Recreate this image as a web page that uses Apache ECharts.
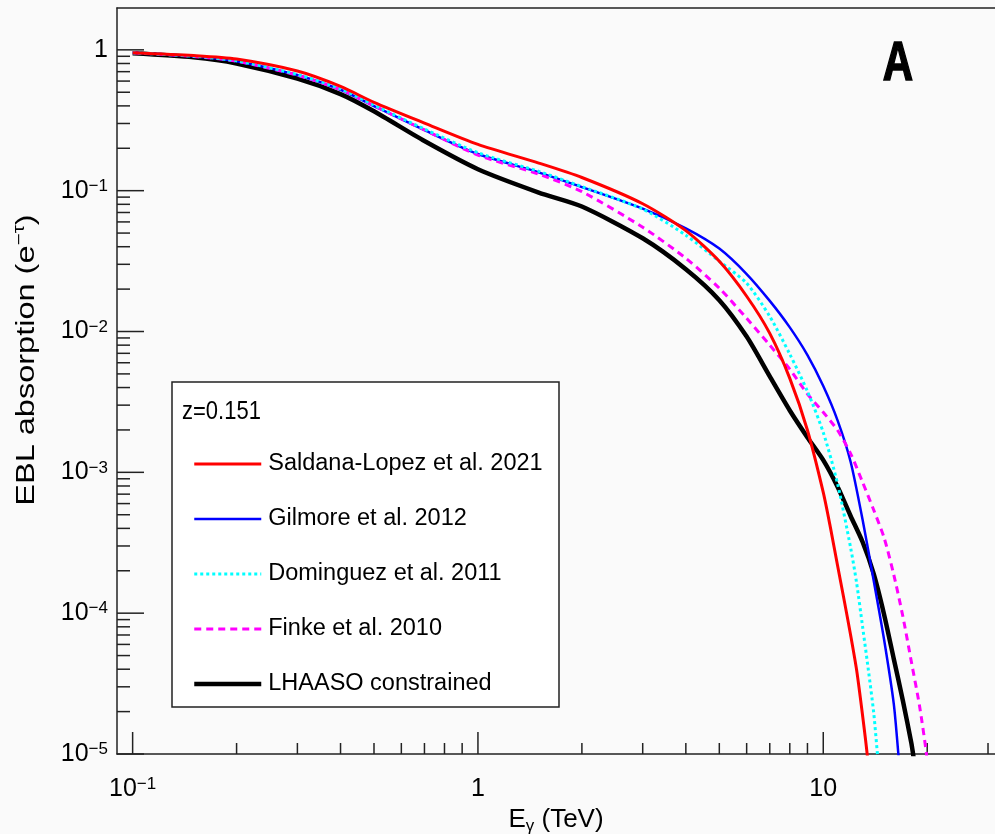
<!DOCTYPE html>
<html>
<head>
<meta charset="utf-8">
<script src="https://cdn.jsdelivr.net/npm/echarts@6/dist/echarts.min.js"></script>
<style>
html,body{margin:0;padding:0;background:#fafafa;}
#chart{width:995px;height:834px;}
</style>
</head>
<body>
<div id="chart"></div>
<script>
// ---------- data ----------
const seriesNames = ['Saldana-Lopez et al. 2021','Gilmore et al. 2012','Dominguez et al. 2011','Finke et al. 2010','LHAASO constrained'];

const saldanaE = [0.1,0.15,0.2,0.3,0.4,0.5,0.7,1,1.5,2,3,4,5,6,7,8,9,10,10.5,11,11.5,12,12.5,13,13.4,14];
const saldanaV = [0.953,0.91,0.86,0.707,0.55,0.424,0.302,0.213,0.157,0.124,0.0807,0.052,0.0315,0.0178,0.0097,0.00465,0.00199,7.2e-4,4.0e-4,2.18e-4,1.23e-4,7.0e-5,3.9e-5,1.87e-5,1.0e-5,3e-6];

const gilmoreE = [0.1,0.15,0.2,0.3,0.4,0.5,0.7,1,1.5,2,3,4,5,6,7,8,9,10,11,12,13,14,15,16,16.5,17.2];
const gilmoreV = [0.953,0.9,0.83,0.662,0.521,0.399,0.269,0.182,0.135,0.106,0.0745,0.054,0.0388,0.0256,0.0165,0.0107,0.0068,0.0041,0.00234,0.00119,4.6e-4,1.7e-4,6.5e-5,2.28e-5,1.0e-5,3e-6];

const dominguezE = [0.1,0.15,0.2,0.3,0.4,0.5,0.7,1,1.5,2,3,4,5,6,7,8,9,10,11,12,12.5,13,13.5,14,14.35,15];
const dominguezV = [0.953,0.902,0.835,0.668,0.528,0.405,0.274,0.186,0.137,0.107,0.074,0.0483,0.0315,0.022,0.0128,0.0069,0.00376,0.00192,8.3e-4,2.92e-4,1.62e-4,8.0e-5,4.0e-5,1.96e-5,1.0e-5,3e-6];

const finkeE = [0.1,0.15,0.2,0.3,0.4,0.5,0.7,1,1.5,2,3,4,5,6,7,8,9,10,11,12,13,14,15,16,17,18,19,19.9,21];
const finkeV = [0.953,0.898,0.83,0.66,0.522,0.4,0.27,0.179,0.131,0.0984,0.055,0.0331,0.0203,0.0124,0.008,0.0054,0.0036,0.00267,0.00199,0.00136,8.5e-4,5.4e-4,3.44e-4,1.88e-4,9.5e-5,4.5e-5,2.2e-5,1.0e-5,3e-6];

const lhaasoE = [0.1,0.15,0.2,0.3,0.4,0.5,0.7,1,1.5,2,3,4,5,6,7,8,9,10,11,12,13,14,15,16,17,18,18.2,19];
const lhaasoV = [0.944,0.885,0.80,0.624,0.485,0.366,0.225,0.142,0.097,0.0772,0.0459,0.0277,0.0167,0.0092,0.0048,0.00275,0.00177,0.00122,7.9e-4,4.9e-4,3.2e-4,1.9e-4,9.8e-5,4.75e-5,2.4e-5,1.19e-5,1.0e-5,5e-6];

const xMajorTicks = [0.1, 1, 10];
const xMinorTicks = [0.2,0.3,0.4,0.5,0.6,0.7,0.8,0.9,2,3,4,5,6,7,8,9,20,30];
const xTickBase = ['10','1','10'];
const xTickExp  = ['\u22121','',''];

const yMajorTicks = [1e-5,1e-4,1e-3,1e-2,1e-1,1];
const yMinorTicks = [2e-5,3e-5,4e-5,5e-5,6e-5,7e-5,8e-5,9e-5,
                     2e-4,3e-4,4e-4,5e-4,6e-4,7e-4,8e-4,9e-4,
                     2e-3,3e-3,4e-3,5e-3,6e-3,7e-3,8e-3,9e-3,
                     2e-2,3e-2,4e-2,5e-2,6e-2,7e-2,8e-2,9e-2,
                     0.2,0.3,0.4,0.5,0.6,0.7,0.8,0.9];
const yTickBase = ['10','10','10','10','10','1'];
const yTickExp  = ['\u22125','\u22124','\u22123','\u22122','\u22121',''];

// ---------- chart ----------
const FONT = '"Liberation Sans",Arial,Helvetica,sans-serif';
const chart = echarts.init(document.getElementById('chart'), null, {renderer:'canvas'});

function pairs(E, V){ return E.map((e,i)=>[e, V[i]]); }
function idxOf(arr, v){ for(let i=0;i<arr.length;i++){ if(Math.abs(Math.log10(arr[i])-Math.log10(v))<1e-6) return i; } return -1; }
function fmt(arr, base, exp){
  return function(v){
    const i = idxOf(arr, v);
    if(i<0) return '';
    return exp[i] ? '{b|'+base[i]+'}{s|'+exp[i]+'}' : '{b|'+base[i]+'}';
  };
}
const labelRich = {
  b:{fontFamily:FONT,fontSize:25,color:'#000',lineHeight:26},
  s:{fontFamily:FONT,fontSize:17,color:'#000',lineHeight:17,verticalAlign:'top'}
};

const X_MIN = 0.0901, X_MAX = 31.43, Y_MIN = 1e-5, Y_MAX = 1.982;

function xTickItem(params, api){
  const v = api.value(0), major = api.value(2);
  const cs = params.coordSys;
  const p = api.coord([v, 1]);
  const yb = cs.y + cs.height;
  return {type:'line', shape:{x1:p[0], y1:yb, x2:p[0], y2:yb-(major?22:11)}, style:{stroke:'#222', lineWidth:1.5}};
}
function yTickItem(params, api){
  const v = api.value(1), major = api.value(2);
  const cs = params.coordSys;
  const p = api.coord([1, v]);
  return {type:'line', shape:{x1:cs.x, y1:p[1], x2:cs.x+(major?27:13), y2:p[1]}, style:{stroke:'#222', lineWidth:1.5}};
}

const lineCommon = {type:'line', symbol:'none', showSymbol:false, smooth:0.25, clip:true, z:3};
const hiddenAxisParts = {axisTick:{show:false}, minorTick:{show:false}, splitLine:{show:false}, minorSplitLine:{show:false}};

const option = {
  backgroundColor:'#fafafa',
  animation:false,
  grid:{left:117, right:0, top:8, bottom:80, show:false, containLabel:false, outerBoundsMode:'none'},
  xAxis:[
    Object.assign({
      type:'log', min:X_MIN, max:X_MAX, logBase:10, position:'bottom',
      axisLine:{show:true, lineStyle:{color:'#222', width:1.5}},
      axisLabel:{formatter:fmt(xMajorTicks,xTickBase,xTickExp), rich:labelRich, margin:22, showMinLabel:false, showMaxLabel:false},
      name:'{b|E}{g|\u03b3}{b| (TeV)}', nameLocation:'middle', nameGap:45,
      nameTextStyle:{rich:{b:{fontFamily:FONT,fontSize:26,color:'#000',lineHeight:30},g:{fontFamily:FONT,fontSize:17,color:'#000',lineHeight:30,verticalAlign:'bottom'}}}
    }, hiddenAxisParts),
    Object.assign({
      type:'log', min:X_MIN, max:X_MAX, logBase:10, position:'top',
      axisLine:{show:true, lineStyle:{color:'#222', width:1.5}},
      axisLabel:{show:false}
    }, hiddenAxisParts)
  ],
  yAxis:Object.assign({
    type:'log', min:Y_MIN, max:Y_MAX, logBase:10,
    axisLine:{show:true, lineStyle:{color:'#222', width:1.5}},
    axisLabel:{formatter:fmt(yMajorTicks,yTickBase,yTickExp), rich:labelRich, margin:9, showMinLabel:true, showMaxLabel:false}
  }, hiddenAxisParts),
  legend:{
    show:true, orient:'vertical', left:187, top:444, z:20,
    itemWidth:67, itemHeight:14, itemGap:25,
    data:seriesNames,
    itemStyle:{opacity:0},
    lineStyle:{width:'inherit'},
    textStyle:{fontFamily:FONT, fontSize:23.5, color:'#000', lineHeight:30, padding:[0,0,0,2]},
    selectedMode:false
  },
  graphic:[
    {type:'rect', z:10, shape:{x:172, y:382, width:387, height:325}, style:{fill:'#ffffff', stroke:'#222', lineWidth:1.5}},
    {type:'text', z:21, x:182, y:412, scaleY:1.15, style:{text:'z=0.151', fontFamily:FONT, fontSize:22, fill:'#000', textVerticalAlign:'middle'}},
    {type:'text', z:21, x:898, y:65, scaleY:1.3, style:{text:'A', fontFamily:FONT, fontSize:42, fontWeight:'bold', fill:'#000', stroke:'#000', lineWidth:1.2, textAlign:'center', textVerticalAlign:'middle'}},
    {type:'text', z:21, x:27, y:360, rotation:Math.PI/2, scaleX:1.3, scaleY:1,
      style:{text:'{n|EBL absorption (e}{s|\u2212\u03c4}{n|)}', textAlign:'center', textVerticalAlign:'middle',
        rich:{n:{fontFamily:FONT,fontSize:25,fill:'#000',lineHeight:30}, s:{fontFamily:FONT,fontSize:16,fill:'#000',lineHeight:16,verticalAlign:'top'}}}}
  ],
  series:[
    Object.assign({}, lineCommon, {name:seriesNames[4], data:pairs(lhaasoE,lhaasoV), color:'#000000', lineStyle:{color:'#000000', width:4.5}}),
    Object.assign({}, lineCommon, {name:seriesNames[1], data:pairs(gilmoreE,gilmoreV), color:'#0000ff', lineStyle:{color:'#0000ff', width:2.5}}),
    Object.assign({}, lineCommon, {name:seriesNames[3], data:pairs(finkeE,finkeV), color:'#ff00ff', lineStyle:{color:'#ff00ff', width:3, type:[7,5]}}),
    Object.assign({}, lineCommon, {name:seriesNames[2], data:pairs(dominguezE,dominguezV), color:'#00ffff', lineStyle:{color:'#00ffff', width:3, type:[3,3]}}),
    Object.assign({}, lineCommon, {name:seriesNames[0], data:pairs(saldanaE,saldanaV), color:'#ff0000', lineStyle:{color:'#ff0000', width:3}}),
    {type:'custom', name:'xticks', clip:false, silent:true, z:2, renderItem:xTickItem, encode:{x:0,y:1},
      data: xMajorTicks.map(v=>[v,1,1]).concat(xMinorTicks.map(v=>[v,1,0]))},
    {type:'custom', name:'yticks', clip:false, silent:true, z:2, renderItem:yTickItem, encode:{x:0,y:1},
      data: yMajorTicks.map(v=>[1,v,1]).concat(yMinorTicks.map(v=>[1,v,0]))}
  ]
};
chart.setOption(option);
</script>
</body>
</html>
